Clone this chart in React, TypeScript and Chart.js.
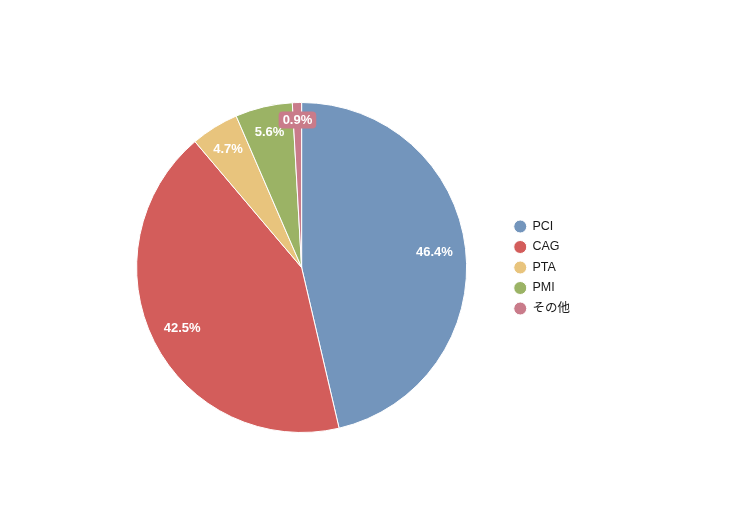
import React, { useEffect, useRef } from "react";
import { Chart, registerables } from "chart.js";

Chart.register(...registerables);

const categories = ["PCI", "CAG", "PTA", "PMI", "その他"];
const values = [46.4, 42.5, 4.7, 5.6, 0.9];
const colors = ["#7395BC", "#D35D5B", "#E8C47D", "#9BB365", "#C97B8A"];

const FONT = "'Liberation Sans', 'Noto Sans CJK JP', Arial, sans-serif";

const labelPlugin = {
  id: "sliceLabels",
  afterDatasetsDraw(chart: any) {
    const ctx = chart.ctx;
    const meta = chart.getDatasetMeta(0);
    ctx.save();
    ctx.font = `bold 13px ${FONT}`;
    ctx.textAlign = "center";
    ctx.textBaseline = "middle";
    meta.data.forEach((arc: any, i: number) => {
      const v = values[i];
      const mid = (arc.startAngle + arc.endAngle) / 2;
      const frac = v >= 10 ? 0.81 : v >= 2 ? 0.845 : 0.895;
      const r = arc.outerRadius * frac;
      const x = arc.x + Math.cos(mid) * r;
      const y = arc.y + Math.sin(mid) * r;
      const text = v.toFixed(1) + "%";
      if (v < 2) {
        const w = ctx.measureText(text).width + 8;
        const h = 17;
        ctx.fillStyle = colors[i];
        ctx.beginPath();
        (ctx as any).roundRect(x - w / 2, y - h / 2, w, h, 4);
        ctx.fill();
      }
      ctx.fillStyle = "#ffffff";
      ctx.fillText(text, x, y + 0.5);
    });
    ctx.restore();
  },
};

export default function App() {
  const ref = useRef<HTMLCanvasElement>(null);
  useEffect(() => {
    if (!ref.current) return;
    const chart = new Chart(ref.current, {
      type: "pie",
      data: {
        labels: categories,
        datasets: [
          {
            data: values,
            backgroundColor: colors,
            borderColor: "#ffffff",
            borderWidth: 1,
          },
        ],
      },
      options: {
        animation: false,
        responsive: false,
        layout: { padding: { top: 102, bottom: 77, left: 97, right: 150 } },
        plugins: {
          legend: {
            position: "right",
            labels: {
              usePointStyle: true,
              pointStyle: "circle",
              boxWidth: 12,
              boxHeight: 9.2,
              padding: 8,
              color: "#1a1a1a",
              font: { size: 12.5, family: FONT },
            },
          },
          tooltip: { enabled: false },
        },
      },
      plugins: [labelPlugin],
    });
    return () => chart.destroy();
  }, []);
  return (
    <div style={{ position: "absolute", left: 0, top: 0, width: 730, height: 510, background: "#fff" }}>
      <canvas ref={ref} width={730} height={510} style={{ width: 730, height: 510 }} />
    </div>
  );
}
